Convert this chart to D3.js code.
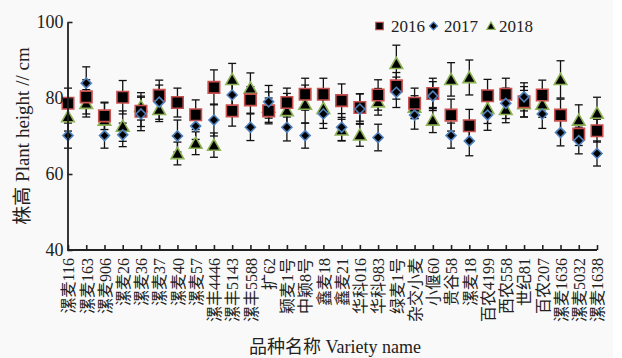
<!DOCTYPE html>
<html>
<head>
<meta charset="utf-8">
<script src="https://cdn.jsdelivr.net/npm/d3@7"></script>
<style>
  html, body { margin: 0; padding: 0; background: #ffffff; }
  svg { display: block; }
  text { font-family: "Liberation Serif", "Noto Sans CJK SC", serif; fill: #222; }
</style>
</head>
<body>
<svg id="chart" width="622" height="358"></svg>
<script>
// Wheat varieties (category axis)
const varieties = [
  "漯麦116", "漯麦163", "漯麦906", "漯麦26", "漯麦36", "漯麦37", "漯麦40", "漯麦57",
  "漯丰4446", "漯丰5143", "漯丰5588", "扩62", "颖麦1号", "中颖8号", "鑫麦18", "鑫麦21",
  "华科016", "华科983", "绿麦1号", "杂交小麦", "小偃60", "贵谷58", "漯麦18", "百农4199",
  "西农558", "世纪81", "百农207", "漯麦1636", "漯麦5032", "漯麦1638"
];

// Plant height (cm), mean per year
const height2016 = [78.6, 80.3, 75.3, 80.2, 76.5, 80.7, 78.8, 75.6, 82.8, 76.6,
                    79.5, 76.6, 78.8, 81.0, 81.0, 79.3, 77.5, 80.8, 83.2, 78.6,
                    81.2, 75.5, 72.7, 80.6, 81.0, 79.0, 80.8, 75.5, 70.5, 71.4];
const height2017 = [70.1, 83.9, 70.1, 70.3, 75.8, 78.9, 70.0, 72.6, 74.2, 80.8,
                    72.3, 79.0, 72.3, 70.1, 75.8, 72.3, 77.1, 69.6, 81.5, 75.5,
                    80.5, 70.1, 68.7, 75.5, 78.6, 80.3, 75.8, 70.9, 68.8, 65.4];
const height2018 = [75.1, 78.6, 74.2, 72.6, 77.8, 77.0, 65.4, 68.1, 67.6, 84.9,
                    82.6, 77.6, 76.7, 78.4, 77.3, 71.6, 70.3, 79.0, 89.1, 77.6,
                    74.2, 84.9, 85.4, 77.3, 77.0, 78.5, 78.4, 84.9, 74.2, 76.0];

// Standard deviations (error bars)
const sd2016 = [4.0, 4.5, 3.6, 4.4, 4.0, 4.0, 3.8, 3.9, 4.6, 4.0,
                3.5, 3.4, 3.8, 4.2, 4.2, 4.4, 3.6, 4.0, 3.5, 4.0,
                4.0, 4.2, 4.3, 4.3, 4.2, 4.0, 3.9, 4.2, 3.0, 3.0];
const sd2017 = [3.3, 4.3, 3.3, 3.1, 4.4, 4.5, 4.2, 3.5, 4.2, 3.5,
                3.5, 4.3, 3.6, 3.3, 3.8, 3.6, 4.0, 3.5, 4.0, 3.7,
                3.8, 3.3, 3.9, 4.0, 4.0, 3.7, 3.8, 3.5, 3.5, 3.3];
const sd2018 = [3.8, 3.6, 4.5, 4.0, 3.6, 3.2, 3.0, 3.0, 3.2, 4.2,
                4.0, 4.0, 4.5, 5.0, 4.0, 2.8, 3.0, 3.5, 4.8, 3.0,
                3.3, 4.4, 4.6, 4.0, 3.5, 3.5, 3.5, 4.9, 4.0, 4.2];

const years = ["2016", "2017", "2018"];
const yTicks = [40, 60, 80, 100];

const svg = d3.select("#chart");

// faint paper tone behind the figure
svg.append("rect").attr("x", 0).attr("y", 0).attr("width", 613).attr("height", 358)
  .attr("fill", "#f9f9f9");

const x = d3.scalePoint().domain(varieties).range([68, 597]);
const y = d3.scaleLinear().domain([40, 100]).range([250, 22]);

const series = [
  { year: years[0], mean: height2016, sd: sd2016, shape: "square",   stroke: "#c9504e" },
  { year: years[1], mean: height2017, sd: sd2017, shape: "diamond",  stroke: "#4f81bd" },
  { year: years[2], mean: height2018, sd: sd2018, shape: "triangle", stroke: "#8db356" }
];

function symbolPath(shape, s) {
  if (shape === "square") return d3.symbol(d3.symbolSquare, s * s)();
  if (shape === "diamond") {
    const h = s / 2;
    return `M0,${-h}L${h},0L0,${h}L${-h},0Z`;
  }
  const h = s / 2;
  return `M0,${-h}L${h * 1.05},${h * 0.85}L${-h * 1.05},${h * 0.85}Z`;
}

// error bars underneath all markers
const capW = 4;
series.forEach(sr => {
  const g = svg.append("g").attr("class", "err-" + sr.year)
    .attr("stroke", "#111").attr("stroke-width", 1.3).attr("fill", "none");
  varieties.forEach((v, i) => {
    const cx = x(v);
    const top = y(sr.mean[i] + sr.sd[i]);
    const bot = y(sr.mean[i] - sr.sd[i]);
    g.append("line").attr("x1", cx).attr("x2", cx).attr("y1", top).attr("y2", bot);
    g.append("line").attr("x1", cx - capW).attr("x2", cx + capW).attr("y1", top).attr("y2", top);
    g.append("line").attr("x1", cx - capW).attr("x2", cx + capW).attr("y1", bot).attr("y2", bot);
  });
});

// markers: 2018 triangles below, then 2016 squares, 2017 diamonds on top
const drawOrder = [series[2], series[0], series[1]];
const markerSize = { square: 11.5, diamond: 10, triangle: 12 };
drawOrder.forEach(sr => {
  svg.append("g").attr("class", "pts-" + sr.year)
    .selectAll("path")
    .data(varieties)
    .join("path")
    .attr("transform", (v, i) => `translate(${x(v)},${y(sr.mean[i])})`)
    .attr("d", symbolPath(sr.shape, markerSize[sr.shape]))
    .attr("fill", "#000")
    .attr("stroke", sr.stroke)
    .attr("stroke-width", 1.6);
});

// y axis with inward ticks
const yAxis = svg.append("g").attr("transform", "translate(67.5,0)")
  .call(d3.axisLeft(y).tickValues(yTicks).tickSize(-5).tickSizeOuter(0).tickPadding(4));
yAxis.select(".domain").attr("stroke", "#222").attr("stroke-width", 1.8);
yAxis.selectAll(".tick line").attr("stroke", "#222").attr("stroke-width", 1.6);
yAxis.selectAll(".tick text").attr("font-size", 18)
  .attr("font-family", "Liberation Serif, serif").attr("fill", "#333");

// x axis with upward ticks and rotated variety names
const xAxis = svg.append("g").attr("transform", "translate(0,250)")
  .call(d3.axisBottom(x).tickSize(-5).tickSizeOuter(0));
xAxis.select(".domain").attr("stroke", "#222").attr("stroke-width", 1.8)
  .attr("d", "M67.5,0H597");
xAxis.selectAll(".tick line").attr("stroke", "#222").attr("stroke-width", 1.6);
xAxis.selectAll(".tick text")
  .attr("font-size", 16)
  .attr("text-anchor", "end")
  .attr("transform", "rotate(-90)")
  .attr("x", -8).attr("y", 0).attr("dy", "0.36em")
  .attr("fill", "#333");

// axis titles
svg.append("text")
  .attr("transform", "translate(29,136) rotate(-90)")
  .attr("text-anchor", "middle")
  .attr("font-size", 19)
  .attr("fill", "#333")
  .text("株高 Plant height // cm");

svg.append("text")
  .attr("x", 335).attr("y", 353)
  .attr("text-anchor", "middle")
  .attr("font-size", 18)
  .attr("fill", "#333")
  .text("品种名称 Variety name");

// legend
const legend = svg.append("g").attr("class", "legend");
const legendPos = [
  { sym: 379.5, txt: 391 },
  { sym: 433.5, txt: 444 },
  { sym: 491,   txt: 499 }
];
series.forEach((sr, k) => {
  const lp = legendPos[k];
  legend.append("path")
    .attr("transform", `translate(${lp.sym},26)`)
    .attr("d", symbolPath(sr.shape, sr.shape === "square" ? 7.5 : 8))
    .attr("fill", "#000").attr("stroke", sr.stroke).attr("stroke-width", 1.2);
  legend.append("text")
    .attr("x", lp.txt).attr("y", 32)
    .attr("font-size", 17)
    .attr("fill", "#333")
    .text(sr.year);
});
</script>
</body>
</html>
